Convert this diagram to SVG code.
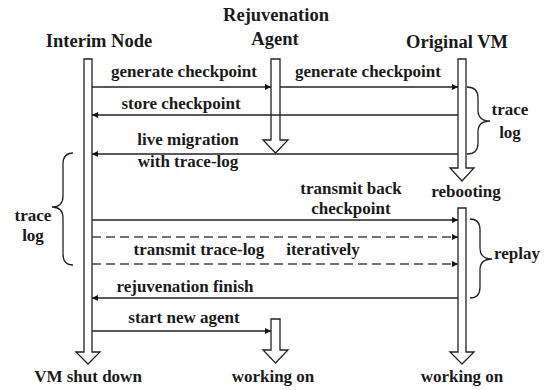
<svg xmlns="http://www.w3.org/2000/svg" width="548" height="390" viewBox="0 0 548 390">
<style>
text{font-family:'Liberation Serif','Times New Roman',Tinos,'DejaVu Serif',serif;font-weight:700;fill:#1a1a1a;text-anchor:middle}
.h{font-size:18.5px}
.l{font-size:17px}
.life{fill:#fff;stroke:#222;stroke-width:1.3}
.msg{fill:none;stroke:#222;stroke-width:1.4}
.dash{fill:none;stroke:#444;stroke-width:1.6;stroke-dasharray:9 5}
.brace{fill:none;stroke:#222;stroke-width:1.3}
</style>
<defs>
<marker id="ah" viewBox="0 0 10 10" refX="10" refY="5" markerWidth="6" markerHeight="6" markerUnits="userSpaceOnUse" orient="auto">
<path d="M0,0 L10,5 L0,10 Z" fill="#111"/>
</marker>
</defs>
<rect width="548" height="390" fill="#fff"/>

<g id="interim">
<text class="h" x="99" y="47">Interim Node</text>
<path class="life" d="M84,59 H92 V352 H100 L88,364 L76,352 H84 Z"/>
<text class="l" x="88" y="382">VM shut down</text>
</g>

<g id="agent">
<text class="h" x="276" y="21">Rejuvenation</text>
<text class="h" x="275" y="45">Agent</text>
<path class="life" d="M271,59 H280 V140 H288 L275.5,153 L263,140 H271 Z"/>
</g>

<g id="new-agent">
<path class="life" d="M271,319 H280 V350 H288 L275.5,363 L263,350 H271 Z"/>
<text class="l" x="273" y="382">working on</text>
</g>

<g id="original-vm">
<text class="h" x="457" y="48">Original VM</text>
<path class="life" d="M458,59 H466 V168 H474 L462,181 L450,168 H458 Z"/>
<text class="l" x="466" y="197">rebooting</text>
</g>

<g id="rebooted-vm">
<path class="life" d="M458,208 H466 V352 H474 L462,364 L450,352 H458 Z"/>
<text class="l" x="462" y="382">working on</text>
</g>

<g id="connectors">
<line class="msg" x1="92" y1="87" x2="271" y2="87" marker-end="url(#ah)"/>
<line class="msg" x1="280" y1="87" x2="458" y2="87" marker-end="url(#ah)"/>
<line class="msg" x1="458" y1="115" x2="92" y2="115" marker-end="url(#ah)"/>
<line class="msg" x1="458" y1="154" x2="92" y2="154" marker-end="url(#ah)"/>
<line class="msg" x1="92" y1="220" x2="458" y2="220" marker-end="url(#ah)"/>
<line class="dash" x1="92" y1="237" x2="458" y2="237" marker-end="url(#ah)"/>
<line class="dash" x1="92" y1="264" x2="458" y2="264" marker-end="url(#ah)"/>
<line class="msg" x1="458" y1="298" x2="92" y2="298" marker-end="url(#ah)"/>
<line class="msg" x1="92" y1="331" x2="271" y2="331" marker-end="url(#ah)"/>
</g>

<g id="labels">
<text class="l" x="184" y="77">generate checkpoint</text>
<text class="l" x="368" y="77">generate checkpoint</text>
<text class="l" x="181" y="109">store checkpoint</text>
<text class="l" x="188" y="145">live migration</text>
<text class="l" x="188" y="167">with trace-log</text>
<text class="l" x="351" y="194">transmit back</text>
<text class="l" x="351" y="214">checkpoint</text>
<text class="l" x="199" y="255">transmit trace-log</text>
<text class="l" x="323" y="255">iteratively</text>
<text class="l" x="185" y="292">rejuvenation finish</text>
<text class="l" x="184" y="323">start new agent</text>
</g>

<g id="brace-trace-right">
<path class="brace" d="M467,87 Q478,87 478,98 V110 Q478,121 490,121 Q478,121 478,132 V143 Q478,154 467,154"/>
<text class="l" x="510" y="115">trace</text>
<text class="l" x="510" y="138">log</text>
</g>

<g id="brace-trace-left">
<path class="brace" d="M73,153 Q63,153 63,164 V196 Q63,207 52,207 Q63,207 63,218 V254 Q63,265 73,265"/>
<text class="l" x="33" y="221">trace</text>
<text class="l" x="33" y="241">log</text>
</g>

<g id="brace-replay">
<path class="brace" d="M470,219 Q480,219 480,230 V248 Q480,259 492,259 Q480,259 480,270 V287 Q480,298 470,298"/>
<text class="l" x="517" y="259">replay</text>
</g>
</svg>
